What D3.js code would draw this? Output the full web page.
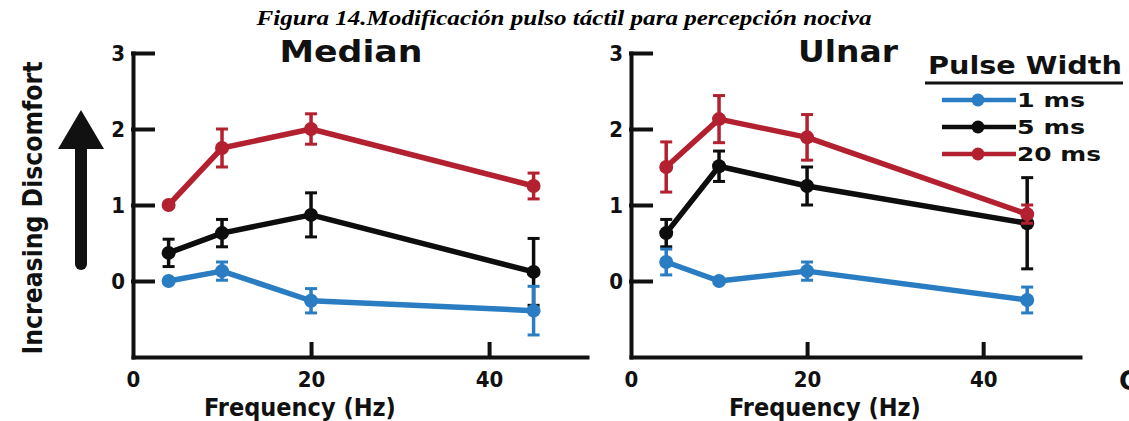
<!DOCTYPE html>
<html>
<head>
    <meta charset="utf-8">
    <title>Pulse Width Discomfort</title>
    <script src="https://d3js.org/d3.v7.min.js"></script>
    <style>
        body { margin: 0; background: #fff; }
        svg { display: block; }
        .tick text { font-family: "DejaVu Sans Condensed", "DejaVu Sans"; font-weight: bold; font-size: 22px; fill: #111; }
    </style>
</head>
<body>
    <div id="chart"></div>
    <script>
        // data
        const freqs = [4, 10, 20, 45]
        const seriesNames = ["1 ms", "5 ms", "20 ms"]
        const seriesColors = ["#2a7dc2", "#0d0d0d", "#b3202f"]

        const median1 = [0, 0.13, -0.26, -0.39]
        const median1Err = [0, 0.12, 0.16, 0.32]
        const median5 = [0.37, 0.63, 0.87, 0.12]
        const median5Err = [0.18, 0.18, 0.29, 0.44]
        const median20 = [1.0, 1.75, 2.0, 1.25]
        const median20Err = [0, 0.25, 0.2, 0.17]

        const ulnar1 = [0.25, 0, 0.13, -0.25]
        const ulnar1Err = [0.17, 0, 0.12, 0.17]
        const ulnar5 = [0.63, 1.51, 1.25, 0.76]
        const ulnar5Err = [0.18, 0.2, 0.25, 0.6]
        const ulnar20 = [1.5, 2.13, 1.89, 0.88]
        const ulnar20Err = [0.33, 0.31, 0.3, 0.12]

        const yTicks = [0, 1, 2, 3]
        const xTicks = [0, 20, 40]

        const w = 1129, h = 421

        const svg = d3.select("#chart").append("svg")
            .attr("width", w)
            .attr("height", h)

        svg.append("text")
            .attr("x", 564)
            .attr("y", 25)
            .attr("text-anchor", "middle")
            .attr("font-family", "Liberation Serif")
            .attr("font-style", "italic")
            .attr("font-weight", "bold")
            .attr("font-size", 20)
            .attr("textLength", 615)
            .attr("lengthAdjust", "spacingAndGlyphs")
            .text("Figura 14.Modificación pulso táctil para percepción nociva")

        const yScale = d3.scaleLinear().domain([-1, 3]).range([357, 53])

        const panels = [
            { title: "Median", titleX: 351, titleW: 143, x0: 133, x1: 587, labelX: 300,
              means: [median1, median5, median20], errs: [median1Err, median5Err, median20Err] },
            { title: "Ulnar", titleX: 848, titleW: 100, x0: 631, x1: 1080, labelX: 825,
              means: [ulnar1, ulnar5, ulnar20], errs: [ulnar1Err, ulnar5Err, ulnar20Err] }
        ]

        const drawOrder = [1, 0, 2] // 5 ms underneath

        panels.forEach(p => {
            const xScale = d3.scaleLinear().domain([0, 51]).range([p.x0, p.x1])

            const yAxis = d3.axisLeft(yScale)
                .tickValues(yTicks)
                .tickSizeInner(-20)
                .tickSizeOuter(0)
                .tickPadding(8)
                .tickFormat(d3.format("d"))

            const xAxis = d3.axisBottom(xScale)
                .tickValues(xTicks)
                .tickSizeInner(-13)
                .tickSizeOuter(0)
                .tickPadding(14)
                .tickFormat(d3.format("d"))

            const gy = svg.append("g")
                .attr("transform", "translate(" + p.x0 + ",0)")
                .call(yAxis)
            const gx = svg.append("g")
                .attr("transform", "translate(0,357)")
                .call(xAxis)

            svg.selectAll(".domain, .tick line")
                .attr("stroke", "#111")
                .attr("stroke-width", 4)
                .attr("stroke-linecap", "square")
            gx.selectAll(".tick line").filter(d => d === 0).remove()

            svg.append("text")
                .attr("x", p.titleX)
                .attr("y", 62)
                .attr("text-anchor", "middle")
                .attr("font-family", "DejaVu Sans")
                .attr("font-weight", "bold")
                .attr("font-size", 31)
                .attr("textLength", p.titleW)
                .attr("lengthAdjust", "spacingAndGlyphs")
                .attr("fill", "#111")
                .text(p.title)

            svg.append("text")
                .attr("x", p.labelX)
                .attr("y", 416)
                .attr("text-anchor", "middle")
                .attr("font-family", "DejaVu Sans Condensed")
                .attr("font-weight", "bold")
                .attr("font-size", 25)
                .attr("fill", "#111")
                .text("Frequency (Hz)")

            const line = d3.line()
                .x((d, i) => xScale(freqs[i]))
                .y(d => yScale(d))

            drawOrder.forEach(s => {
                const col = seriesColors[s]
                const g = svg.append("g")
                g.append("path")
                    .datum(p.means[s])
                    .attr("d", line)
                    .attr("fill", "none")
                    .attr("stroke", col)
                    .attr("stroke-width", 5.5)
                    .attr("stroke-linejoin", "round")

                const pts = p.means[s].map((m, i) => ({ f: freqs[i], m: m, e: p.errs[s][i] }))
                const eb = g.selectAll(".eb")
                    .data(pts.filter(d => d.e > 0))
                    .enter()
                eb.append("line")
                    .attr("x1", d => xScale(d.f)).attr("x2", d => xScale(d.f))
                    .attr("y1", d => yScale(d.m + d.e)).attr("y2", d => yScale(d.m - d.e))
                    .attr("stroke", col).attr("stroke-width", 3.5)
                eb.append("line")
                    .attr("x1", d => xScale(d.f) - 6).attr("x2", d => xScale(d.f) + 6)
                    .attr("y1", d => yScale(d.m + d.e)).attr("y2", d => yScale(d.m + d.e))
                    .attr("stroke", col).attr("stroke-width", 3)
                eb.append("line")
                    .attr("x1", d => xScale(d.f) - 6).attr("x2", d => xScale(d.f) + 6)
                    .attr("y1", d => yScale(d.m - d.e)).attr("y2", d => yScale(d.m - d.e))
                    .attr("stroke", col).attr("stroke-width", 3)

                g.selectAll("circle")
                    .data(pts)
                    .enter()
                    .append("circle")
                    .attr("cx", d => xScale(d.f))
                    .attr("cy", d => yScale(d.m))
                    .attr("r", 7)
                    .attr("fill", col)
            })
        })

        // y label + arrow
        svg.append("text")
            .attr("transform", "translate(42,208) rotate(-90)")
            .attr("text-anchor", "middle")
            .attr("font-family", "DejaVu Sans Condensed")
            .attr("font-weight", "bold")
            .attr("font-size", 26)
            .attr("textLength", 293)
            .attr("lengthAdjust", "spacingAndGlyphs")
            .attr("fill", "#111")
            .text("Increasing Discomfort")

        svg.append("line")
            .attr("x1", 81).attr("x2", 81)
            .attr("y1", 264).attr("y2", 145)
            .attr("stroke", "#111")
            .attr("stroke-width", 12)
            .attr("stroke-linecap", "round")
        svg.append("path")
            .attr("d", "M58,149L81,110L104,149Z")
            .attr("fill", "#111")

        // legend
        svg.append("text")
            .attr("x", 1025)
            .attr("y", 74)
            .attr("text-anchor", "middle")
            .attr("font-family", "DejaVu Sans")
            .attr("font-weight", "bold")
            .attr("font-size", 24)
            .attr("textLength", 194)
            .attr("lengthAdjust", "spacingAndGlyphs")
            .attr("fill", "#111")
            .text("Pulse Width")
        svg.append("line")
            .attr("x1", 925).attr("x2", 1123)
            .attr("y1", 83).attr("y2", 83)
            .attr("stroke", "#111").attr("stroke-width", 3)

        const legY = [100, 127, 154]
        const leg = svg.selectAll(".leg")
            .data(seriesNames)
            .enter()
            .append("g")
            .attr("transform", (d, i) => "translate(0," + legY[i] + ")")
        leg.append("line")
            .attr("x1", 942).attr("x2", 1016)
            .attr("stroke", (d, i) => seriesColors[i])
            .attr("stroke-width", 4.5)
        leg.append("circle")
            .attr("cx", 978).attr("r", 6.5)
            .attr("fill", (d, i) => seriesColors[i])
        leg.append("text")
            .attr("x", 1017)
            .attr("y", 7)
            .attr("font-family", "DejaVu Sans")
            .attr("font-weight", "bold")
            .attr("font-size", 20)
            .attr("textLength", (d) => d.length === 4 ? 68 : 84)
            .attr("lengthAdjust", "spacingAndGlyphs")
            .attr("fill", "#111")
            .text(d => d)

        // cut-off panel letter at the right edge
        svg.append("text")
            .attr("x", 1119)
            .attr("y", 390)
            .attr("font-family", "DejaVu Sans")
            .attr("font-weight", "bold")
            .attr("font-size", 26)
            .attr("fill", "#111")
            .text("C")
    </script>
</body>
</html>
